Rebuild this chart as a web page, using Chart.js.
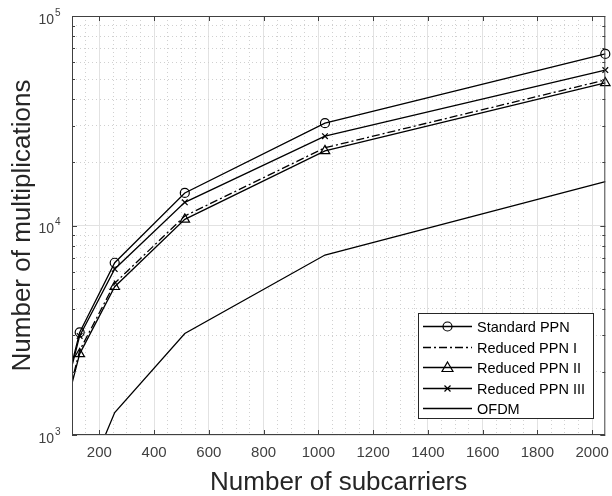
<!DOCTYPE html>
<html>
<head>
<meta charset="utf-8">
<script src="https://cdn.jsdelivr.net/npm/chart.js@4"></script>
<style>
  html, body { margin: 0; padding: 0; background: #fff; }
  #wrap { width: 612px; height: 496px; }
</style>
</head>
<body>
<div id="wrap"><canvas id="chart"></canvas></div>
<script>
// values (log y axis)
const subcarriers = [64, 128, 256, 512, 1024, 2048];
const standardPPN = [1420, 3090, 6640, 14300, 30800, 65900];
const reducedPPN1 = [1190, 2530, 5300, 11100, 23500, 49500];
const reducedPPN2 = [1160, 2440, 5100, 10700, 22700, 47900];
const reducedPPN3 = [1400, 2970, 6200, 12900, 26700, 55200];
const ofdm = [190, 510, 1280, 3050, 7230, 16200];

const xMajorTicks = [200, 400, 600, 800, 1000, 1200, 1400, 1600, 1800, 2000];
const yDecades = [1000, 10000, 100000];

const FONT = '"Liberation Sans", Arial, Helvetica, sans-serif';

// grid values: minor every 50 on x, 2..9 per decade on y
const xGrid = [];
for (let v = 150; v <= 2000; v += 50) xGrid.push(v);
const yGrid = [];
yDecades.forEach(d => { for (let k = 1; k <= 9; k++) if (d * k <= 100000) yGrid.push(d * k); });

const isMajorX = v => xMajorTicks.includes(v);
const isMajorY = v => yDecades.includes(v);

const pts = arr => subcarriers.map((x, i) => ({ x: x, y: arr[i] }));

function marker(ctx, style, x, y) {
  ctx.save();
  ctx.strokeStyle = '#000';
  ctx.lineWidth = 1.2;
  ctx.beginPath();
  if (style === 'circle') {
    ctx.arc(x, y, 4.5, 0, Math.PI * 2);
  } else if (style === 'triangle') {
    ctx.moveTo(x, y - 5.5); ctx.lineTo(x + 5.5, y + 4); ctx.lineTo(x - 5.5, y + 4); ctx.closePath();
  } else if (style === 'crossRot') {
    ctx.moveTo(x - 3, y - 3); ctx.lineTo(x + 3, y + 3);
    ctx.moveTo(x + 3, y - 3); ctx.lineTo(x - 3, y + 3);
  }
  ctx.stroke();
  ctx.restore();
}

// box round the axes, inward ticks and the 10^n labels
const framePlugin = {
  id: 'frame',
  afterDatasetsDraw(chart) {
    const c = chart.ctx, a = chart.chartArea;
    const xs = chart.scales.x, ys = chart.scales.y;
    c.save();
    c.strokeStyle = '#404040';
    c.lineWidth = 1;
    c.strokeRect(a.left + 0.5, a.top + 0.5, a.right - a.left - 1, a.bottom - a.top - 1);
    c.beginPath();
    xMajorTicks.forEach(v => {
      const px = Math.round(xs.getPixelForValue(v)) + 0.5;
      c.moveTo(px, a.bottom); c.lineTo(px, a.bottom - 5);
      c.moveTo(px, a.top); c.lineTo(px, a.top + 5);
    });
    yGrid.forEach(v => {
      const py = Math.round(ys.getPixelForValue(v)) + 0.5;
      const len = isMajorY(v) ? 5 : 3;
      c.moveTo(a.left, py); c.lineTo(a.left + len, py);
      c.moveTo(a.right, py); c.lineTo(a.right - len, py);
    });
    c.stroke();

    c.fillStyle = '#404040';
    c.textAlign = 'right';
    c.textBaseline = 'middle';
    yDecades.forEach(v => {
      const py = ys.getPixelForValue(v);
      c.font = '14px ' + FONT;
      c.fillText('10', 54, py + 4);
      c.textAlign = 'left';
      c.font = '10px ' + FONT;
      c.fillText(String(Math.round(Math.log10(v))), 55, py - 3);
      c.textAlign = 'right';
    });
    c.restore();
  }
};

const legendPlugin = {
  id: 'boxLegend',
  afterDraw(chart) {
    const c = chart.ctx;
    const x0 = 418, y0 = 313, w = 175, h = 105;
    c.save();
    c.fillStyle = '#fff';
    c.fillRect(x0, y0, w, h);
    c.strokeStyle = '#262626';
    c.lineWidth = 1;
    c.strokeRect(x0 + 0.5, y0 + 0.5, w, h);
    chart.data.datasets.forEach((ds, i) => {
      const y = Math.round(y0 + 13 + i * 20.5) + 0.5;
      c.strokeStyle = '#000';
      c.lineWidth = ds.borderWidth;
      c.setLineDash(ds.borderDash || []);
      c.beginPath();
      c.moveTo(x0 + 5, y); c.lineTo(x0 + 54, y);
      c.stroke();
      c.setLineDash([]);
      if (ds.pointRadius > 0) marker(c, ds.pointStyle, x0 + 29.5, y);
      c.fillStyle = '#000';
      c.font = '14.5px ' + FONT;
      c.textAlign = 'left';
      c.textBaseline = 'middle';
      c.fillText(ds.label, x0 + 59, y + 1);
    });
    c.restore();
  }
};

const common = {
  borderColor: '#000',
  borderWidth: 1.3,
  pointBorderColor: '#000',
  pointBackgroundColor: 'rgba(0,0,0,0)',
  pointBorderWidth: 1.2,
  tension: 0,
  clip: { left: 0, top: 6, right: 8, bottom: 0 }
};

new Chart(document.getElementById('chart'), {
  type: 'line',
  data: {
    datasets: [
      { ...common, label: 'Standard PPN', data: pts(standardPPN), pointStyle: 'circle', pointRadius: 4.5 },
      { ...common, label: 'Reduced PPN I', data: pts(reducedPPN1), borderDash: [8, 3, 2, 3], pointRadius: 0 },
      { ...common, label: 'Reduced PPN II', data: pts(reducedPPN2), pointStyle: 'triangle', pointRadius: 5.5 },
      { ...common, label: 'Reduced PPN III', data: pts(reducedPPN3), pointStyle: 'crossRot', pointRadius: 4 },
      { ...common, label: 'OFDM', data: pts(ofdm), pointRadius: 0 }
    ]
  },
  options: {
    responsive: true,
    maintainAspectRatio: false,
    animation: false,
    layout: { padding: { top: 16, right: 4, left: 0, bottom: 0 } },
    plugins: { legend: { display: false }, tooltip: { enabled: false } },
    scales: {
      x: {
        type: 'linear',
        min: 100,
        max: 2048,
        afterBuildTicks: s => { s.ticks = xGrid.map(v => ({ value: v })); },
        afterFit: s => { s.height = 61; s.paddingLeft = 0; s.paddingRight = 0; },
        ticks: {
          autoSkip: false,
          maxRotation: 0,
          padding: 9,
          color: '#404040',
          font: { family: FONT, size: 15 },
          callback: v => isMajorX(v) ? String(v) : ''
        },
        grid: {
          drawTicks: false,
          lineWidth: 1,
          color: ctx => ctx.tick && isMajorX(ctx.tick.value) ? '#e2e2e2' : '#d0d0d0'
        },
        border: {
          display: false,
          dash: ctx => ctx.tick && !isMajorX(ctx.tick.value) ? [1, 3] : []
        },
        title: {
          display: true,
          text: 'Number of subcarriers',
          color: '#262626',
          font: { family: FONT, size: 26, lineHeight: 1.05 },
          padding: { top: 0, bottom: 0 }
        }
      },
      y: {
        type: 'logarithmic',
        min: 1000,
        max: 100000,
        afterBuildTicks: s => { s.ticks = yGrid.map(v => ({ value: v })); },
        afterFit: s => { s.width = 72; s.paddingTop = 0; s.paddingBottom = 0; },
        ticks: { display: false },
        grid: {
          drawTicks: false,
          lineWidth: 1,
          color: ctx => ctx.tick && isMajorY(ctx.tick.value) ? '#e2e2e2' : '#d0d0d0'
        },
        border: {
          display: false,
          dash: ctx => ctx.tick && !isMajorY(ctx.tick.value) ? [1, 3] : []
        },
        title: {
          display: true,
          text: 'Number of multiplications',
          color: '#262626',
          font: { family: FONT, size: 26, lineHeight: 1.2 },
          padding: { top: 7, bottom: 0 }
        }
      }
    }
  },
  plugins: [framePlugin, legendPlugin]
});
</script>
</body>
</html>
